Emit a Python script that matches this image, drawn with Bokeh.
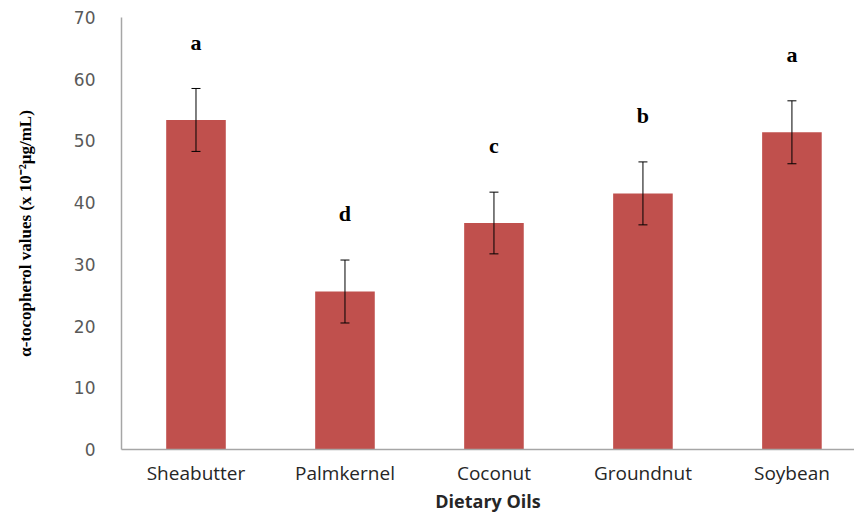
from bokeh.core.properties import value
from bokeh.embed import file_html
from bokeh.models import ColumnDataSource, FixedTicker, Range1d, TeeHead, Whisker
from bokeh.plotting import figure
from bokeh.resources import INLINE

# Mean alpha-tocopherol per dietary oil, standard error and significance letters
oils = ["Sheabutter", "Palmkernel", "Coconut", "Groundnut", "Soybean"]
means = [53.4, 25.6, 36.7, 41.5, 51.4]
errors = [5.1, 5.1, 5.0, 5.1, 5.1]
letters = ["a", "d", "c", "b", "a"]

BAR_COLOR = "#c0504d"
LETTER_GAP = 7.5

xpos = [i + 0.5 for i in range(len(oils))]
src = ColumnDataSource(dict(
    x=xpos,
    mean=means,
    lower=[m - e for m, e in zip(means, errors)],
    upper=[m + e for m, e in zip(means, errors)],
    letter=letters,
    letter_y=[m + e + LETTER_GAP for m, e in zip(means, errors)],
))

p = figure(
    width=854, height=515,
    x_range=Range1d(0, 4.92), y_range=Range1d(0, 70),
    output_backend="svg", toolbar_location=None,
    min_border_left=121, min_border_right=0,
    min_border_top=17, min_border_bottom=66,
)
p.outline_line_color = None
p.xgrid.visible = False
p.ygrid.visible = False

p.vbar(x="x", top="mean", width=0.4, source=src, fill_color=BAR_COLOR, line_color=None)

whisk = Whisker(
    base="x", lower="lower", upper="upper", source=src,
    line_color="black", line_width=1, level="overlay",
    upper_head=TeeHead(size=9, line_color="black", line_width=1),
    lower_head=TeeHead(size=9, line_color="black", line_width=1),
)
p.add_layout(whisk)

p.text(x="x", y="letter_y", text="letter", source=src,
       text_font=value("Liberation Serif"), text_font_style="bold",
       text_font_size="22px", text_align="center", text_baseline="middle",
       text_color="black")

# y axis
p.yaxis.ticker = FixedTicker(ticks=list(range(0, 71, 10)))
p.yaxis.major_tick_line_color = None
p.yaxis.minor_tick_line_color = None
p.yaxis.axis_line_color = "#a6a6a6"
p.yaxis.axis_line_width = 1.5
p.yaxis.major_label_text_font = "DejaVu Sans"
p.yaxis.major_label_text_font_size = "17px"
p.yaxis.major_label_text_color = "#595959"
p.yaxis.major_label_standoff = 20
p.yaxis.axis_label = "α-tocopherol values (x 10⁻²μg/mL)"
p.yaxis.axis_label_text_font = "Liberation Serif"
p.yaxis.axis_label_text_font_style = "bold"
p.yaxis.axis_label_text_font_size = "17px"
p.yaxis.axis_label_text_color = "black"
p.yaxis.axis_label_standoff = 36

# x axis with oil names at the bar centres
p.xaxis.ticker = FixedTicker(ticks=xpos)
p.xaxis.major_label_overrides = {x: name for x, name in zip(xpos, oils)}
p.xaxis.major_tick_line_color = None
p.xaxis.minor_tick_line_color = None
p.xaxis.axis_line_color = "#a6a6a6"
p.xaxis.axis_line_width = 1.5
p.xaxis.major_label_text_font = "Open Sans"
p.xaxis.major_label_text_font_size = "19px"
p.xaxis.major_label_text_color = "#262626"
p.xaxis.major_label_standoff = 4
p.xaxis.axis_label = "Dietary Oils"
p.xaxis.axis_label_text_font = "Open Sans"
p.xaxis.axis_label_text_font_style = "bold"
p.xaxis.axis_label_text_font_size = "18px"
p.xaxis.axis_label_text_color = "#262626"
p.xaxis.axis_label_standoff = 0

open("out.html", "w").write(file_html(p, INLINE))
